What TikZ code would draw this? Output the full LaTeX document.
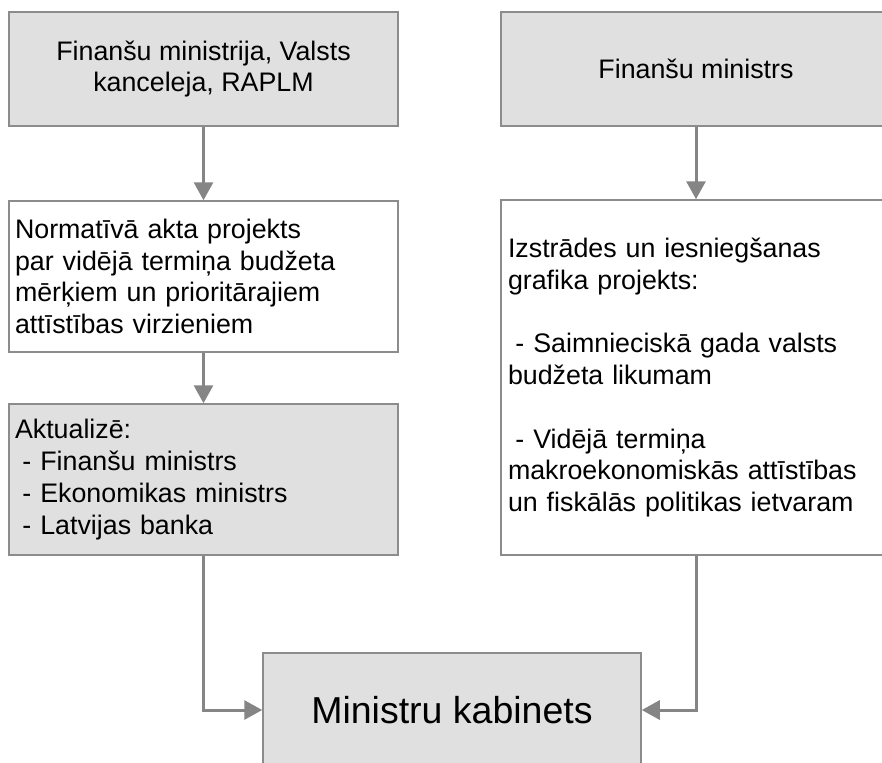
\documentclass[tikz,border=0pt]{standalone}
\usepackage{fontspec}
\setmainfont{Liberation Sans}
\usetikzlibrary{arrows.meta}
\definecolor{boxfill}{HTML}{E0E0E0}
\definecolor{boxline}{HTML}{8C8C8C}
\definecolor{flowline}{HTML}{858585}
\newcommand{\listdash}{\hspace*{.278em}-}
\begin{document}
\begin{tikzpicture}[x=1pt, y=-1pt,
    box/.style={draw=boxline, line width=1.5pt, fill=boxfill, minimum width=389pt,
      inner xsep=6pt, font=\fontsize{26.8}{31.8}\selectfont},
    textbox/.style={box, text width=377pt, align=left},
    flow/.style={draw=flowline, line width=3pt, -{Triangle[width=19pt,length=18pt]}}]
    \path[use as bounding box, clip] (0,0) rectangle (882,762);
    \node[box, minimum height=114pt, align=center] (ministrija) at (203.5,69)
        {Finanšu ministrija, Valsts\\kanceleja, RAPLM};
    \node[textbox, fill=white, minimum height=151pt] (akts) at (203.5,276.5)
        {Normatīvā akta projekts\\
         par vidējā termiņa budžeta\\
         mērķiem un prioritārajiem\\
         attīstības virzieniem};
    \node[textbox, minimum height=151pt] (aktualize) at (203.5,479.5)
        {Aktualizē:\\
         \listdash{} Finanšu ministrs\\
         \listdash{} Ekonomikas ministrs\\
         \listdash{} Latvijas banka};
    \node[box, minimum width=390pt, minimum height=114pt] (ministrs) at (696,69)
        {Finanšu ministrs};
    \node[textbox, fill=white, inner xsep=7pt, text width=376pt, minimum height=355pt] (grafiks) at (696,377.5)
        {Izstrādes un iesniegšanas\\
         grafika projekts:\\
         \mbox{}\\
         \listdash{} Saimnieciskā gada valsts\\
         budžeta likumam\\
         \mbox{}\\
         \listdash{} Vidējā termiņa\\
         makroekonomiskās attīstības\\
         un fiskālās politikas ietvaram};
    \node[box, minimum width=378pt, minimum height=114pt, font=\fontsize{37.5}{45}\selectfont] (kabinets) at (452,710)
        {Ministru kabinets};
    \draw[flow] (ministrija) -- (akts);
    \draw[flow] (akts) -- (aktualize);
    \draw[flow] (ministrs) -- (grafiks);
    \draw[flow] (aktualize.south) |- (kabinets.west);
    \draw[flow] (grafiks.south) |- (kabinets.east);
\end{tikzpicture}
\end{document}
